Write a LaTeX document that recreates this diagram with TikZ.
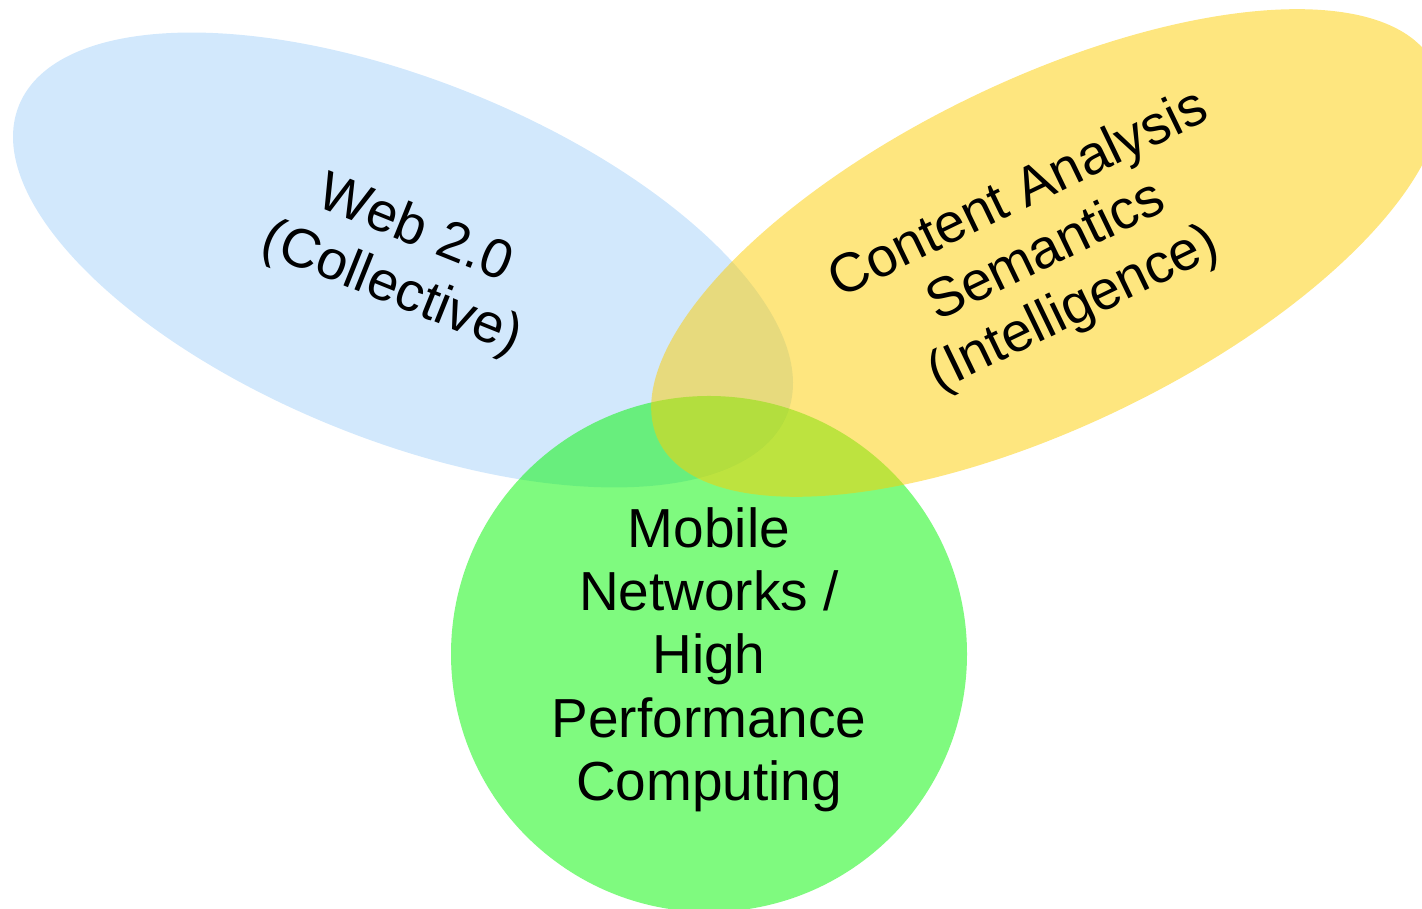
\documentclass[tikz,border=0pt]{standalone}
\usepackage{fontspec}
\setmainfont{Liberation Sans}
\usetikzlibrary{shapes.geometric}

\definecolor{webblue}{RGB}{165,209,249}
\definecolor{mobgreen}{RGB}{0,245,0}
\definecolor{semyellow}{RGB}{253,205,0}

\begin{document}
\begin{tikzpicture}[x=1pt, y=1pt,
    area/.style={fill opacity=0.5, text opacity=1, inner sep=0pt,
                 align=center, font=\fontsize{55}{63.4}\selectfont}]
    % Fix the page size and cut what runs over the edge
    \clip (0,0) rectangle (1422,909);

    % Web 2.0 ellipse (bottom layer)
    \node[area, ellipse, fill=webblue, minimum width=828pt, minimum height=360pt,
          rotate=-21.9] (web) at (403,649) {Web 2.0\\(Collective)};

    % Mobile / HPC circle
    \node[area, circle, fill=mobgreen, minimum size=516pt, text depth=0pt]
          (mobile) at (709,255) {Mobile\\Networks /\\High\\Performance\\Computing};

    % Content analysis ellipse (top layer)
    \node[area, ellipse, fill=semyellow, minimum width=862pt, minimum height=346pt,
          rotate=25.8] (content) at (1046.5,656) {Content Analysis\\Semantics\\(Intelligence)};

\end{tikzpicture}
\end{document}
